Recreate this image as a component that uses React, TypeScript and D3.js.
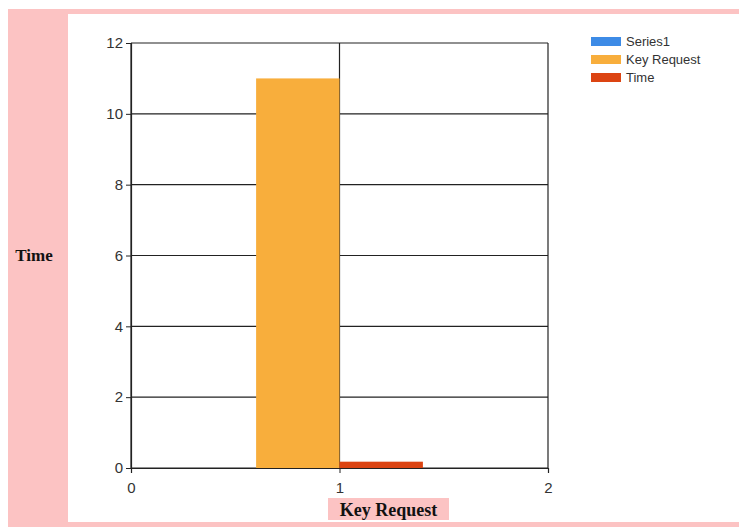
import { useEffect, useRef } from "react";
import * as d3 from "d3";

const seriesNames = ["Series1", "Key Request", "Time"];
const seriesColors = ["#3d8be6", "#f8ae3c", "#dc4412"];
// bars: x position (category value) and height; Series1 has no points
const keyRequestBars = [{ x: 1, value: 11 }];
const timeBars = [{ x: 1, value: 0.15 }];
const yTicks = [0, 2, 4, 6, 8, 10, 12];
const xTicks = [0, 1, 2];

const App = () => {
  const ref = useRef<SVGSVGElement>(null);

  useEffect(() => {
    const svg = d3.select(ref.current);
    const width = 739,
      height = 527;
    const margin = { top: 43, right: 191, bottom: 59, left: 131 };

    svg.selectAll("*").remove();
    svg.attr("width", width).attr("height", height);

    /*** background panels ***/
    svg.append("rect").attr("x", 0).attr("y", 0).attr("width", width).attr("height", height).attr("fill", "#ffffff");
    svg.append("rect").attr("x", 8).attr("y", 9).attr("width", width - 8).attr("height", height - 9).attr("fill", "#fcc3c3");
    svg.append("rect").attr("x", 68).attr("y", 14).attr("width", width - 68).attr("height", 508).attr("fill", "#ffffff");

    const xScale = d3
      .scaleLinear()
      .domain([0, 2])
      .range([margin.left, width - margin.right]);
    const yScale = d3
      .scaleLinear()
      .domain([0, 12])
      .range([height - margin.bottom, margin.top]);

    /*** gridlines ***/
    svg
      .append("g")
      .selectAll("line")
      .data(yTicks)
      .enter()
      .append("line")
      .attr("x1", xScale(0))
      .attr("x2", xScale(2))
      .attr("y1", (d) => yScale(d))
      .attr("y2", (d) => yScale(d))
      .attr("stroke", "#222")
      .attr("stroke-width", 1.2);
    svg
      .append("g")
      .selectAll("line")
      .data(xTicks)
      .enter()
      .append("line")
      .attr("x1", (d) => xScale(d))
      .attr("x2", (d) => xScale(d))
      .attr("y1", yScale(0))
      .attr("y2", yScale(12))
      .attr("stroke", "#222")
      .attr("stroke-width", 1.2);

    /*** bars ***/
    const barW = 0.4;
    svg
      .append("g")
      .selectAll("rect")
      .data(keyRequestBars)
      .enter()
      .append("rect")
      .attr("x", (d) => xScale(d.x - barW))
      .attr("y", (d) => yScale(d.value))
      .attr("width", (d) => xScale(d.x) - xScale(d.x - barW))
      .attr("height", (d) => yScale(0) - yScale(d.value))
      .attr("fill", seriesColors[1]);
    svg
      .append("g")
      .selectAll("rect")
      .data(timeBars)
      .enter()
      .append("rect")
      .attr("x", (d) => xScale(d.x))
      .attr("y", (d) => yScale(d.value) - 1)
      .attr("width", (d) => xScale(d.x + barW) - xScale(d.x))
      .attr("height", (d) => yScale(0) - yScale(d.value) + 1)
      .attr("fill", seriesColors[2]);

    /*** axes ***/
    const yAxis = svg
      .append("g")
      .attr("transform", `translate(${margin.left},0)`)
      .call(d3.axisLeft(yScale).tickValues(yTicks).tickSize(5).tickPadding(3).tickFormat(d3.format("d")));
    const xAxis = svg
      .append("g")
      .attr("transform", `translate(0,${height - margin.bottom})`)
      .call(d3.axisBottom(xScale).tickValues(xTicks).tickSize(5).tickPadding(9).tickFormat(d3.format("d")));
    [yAxis, xAxis].forEach((ax) => {
      ax.select(".domain").attr("stroke", "#222").attr("stroke-width", 1.2);
      ax.selectAll(".tick line").attr("stroke", "#222");
      ax.selectAll("text")
        .attr("fill", "#333")
        .style("font-family", "'Liberation Sans', Arial, sans-serif")
        .style("font-size", "15px");
    });

    /*** axis titles ***/
    svg
      .append("text")
      .attr("x", 34)
      .attr("y", 261)
      .attr("text-anchor", "middle")
      .attr("fill", "#111")
      .style("font-family", "'Liberation Serif', 'Times New Roman', serif")
      .style("font-weight", "bold")
      .style("font-size", "17px")
      .text("Time");

    svg.append("rect").attr("x", 328).attr("y", 498).attr("width", 121).attr("height", 22).attr("fill", "#fcc3c3");
    svg
      .append("text")
      .attr("x", 388.5)
      .attr("y", 516)
      .attr("text-anchor", "middle")
      .attr("fill", "#111")
      .style("font-family", "'Liberation Serif', 'Times New Roman', serif")
      .style("font-weight", "bold")
      .style("font-size", "18px")
      .text("Key Request");

    /*** legend ***/
    const legend = svg
      .append("g")
      .selectAll("g")
      .data(seriesNames)
      .enter()
      .append("g")
      .attr("transform", (_d, i) => `translate(591,${37 + i * 18})`);
    legend
      .append("rect")
      .attr("width", 30)
      .attr("height", 9)
      .attr("fill", (_d, i) => seriesColors[i]);
    legend
      .append("text")
      .attr("x", 35)
      .attr("y", 9)
      .attr("fill", "#333")
      .style("font-family", "'Liberation Sans', Arial, sans-serif")
      .style("font-size", "13px")
      .text((d) => d);
  }, []);

  return <svg ref={ref} style={{ position: "absolute", left: 0, top: 0, display: "block" }} />;
};

export default App;
